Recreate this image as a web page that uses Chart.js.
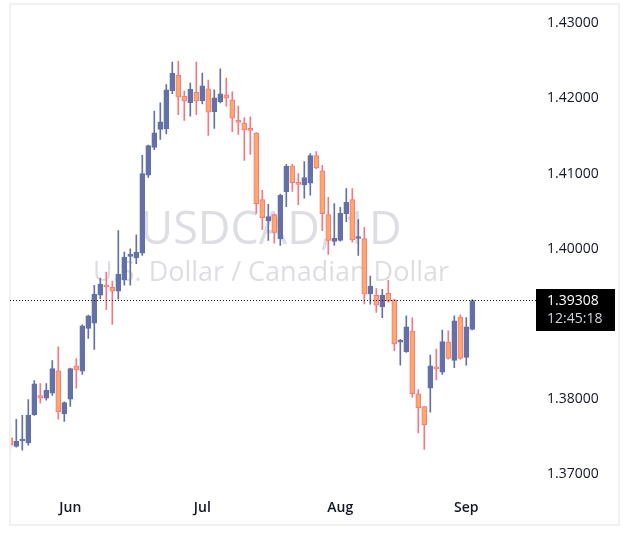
<!DOCTYPE html>
<html>
<head>
<meta charset="utf-8">
<title>USDCAD, 1D</title>
<script src="https://cdn.jsdelivr.net/npm/chart.js@4.4.1/dist/chart.umd.min.js"></script>
<style>
  html, body { margin: 0; padding: 0; background: #ffffff; }
  #wrap { width: 629px; height: 541px; position: relative; }
</style>
</head>
<body>
<div id="wrap"><canvas id="candles"></canvas></div>
<script>
// daily candles
const opens = [
  1.37481, 1.37367, 1.37440, 1.37415, 1.37791, 1.38046, 1.38011, 1.38077, 1.38373, 1.37799,
  1.37997, 1.38440, 1.38368, 1.38938, 1.39009, 1.39380, 1.39500, 1.39486, 1.39433, 1.39589,
  1.39898, 1.39878, 1.39940, 1.40977, 1.41348, 1.41587, 1.41596, 1.42103, 1.42307, 1.42029,
  1.41944, 1.42082, 1.41971, 1.42126, 1.41825, 1.41958, 1.42046, 1.41980, 1.41690, 1.41672,
  1.41585, 1.41539, 1.40652, 1.40368, 1.40453, 1.40130, 1.40758, 1.41102, 1.40865, 1.40850,
  1.40872, 1.41238, 1.41036, 1.40453, 1.40095, 1.40109, 1.40466, 1.40652, 1.40135, 1.40135,
  1.39401, 1.39380, 1.39229, 1.39407, 1.39318, 1.38755, 1.38629, 1.38903, 1.38069, 1.37897,
  1.38143, 1.38410, 1.38355, 1.38758, 1.38514, 1.39089, 1.38554, 1.38925
];
const highs = [
  1.37622, 1.37728, 1.37781, 1.37993, 1.38245, 1.38205, 1.38205, 1.38510, 1.38695, 1.37960,
  1.38410, 1.38536, 1.38987, 1.39115, 1.39513, 1.39609, 1.39689, 1.39570, 1.40241, 1.39954,
  1.39997, 1.40183, 1.41242, 1.41380, 1.41830, 1.41940, 1.42183, 1.42483, 1.42497, 1.42099,
  1.42205, 1.42483, 1.42338, 1.42245, 1.42113, 1.42395, 1.42272, 1.42086, 1.41897, 1.41742,
  1.41755, 1.41545, 1.40775, 1.40589, 1.40460, 1.40726, 1.41123, 1.41123, 1.41000, 1.41159,
  1.41265, 1.41291, 1.41110, 1.40682, 1.40599, 1.40550, 1.40801, 1.40801, 1.40387, 1.40285,
  1.39636, 1.39468, 1.39460, 1.39579, 1.39325, 1.38792, 1.39106, 1.39080, 1.38126, 1.37900,
  1.38585, 1.38665, 1.38917, 1.38907, 1.39106, 1.39119, 1.39083, 1.39322
];
const lows = [
  1.37331, 1.37358, 1.37318, 1.37384, 1.37781, 1.37944, 1.37984, 1.38046, 1.37732, 1.37702,
  1.37901, 1.38143, 1.38328, 1.38805, 1.38660, 1.39335, 1.39189, 1.38991, 1.39327, 1.39513,
  1.39513, 1.39799, 1.39910, 1.40947, 1.41318, 1.41454, 1.41526, 1.42064, 1.41785, 1.41706,
  1.41764, 1.41785, 1.41927, 1.41507, 1.41600, 1.41940, 1.41897, 1.41556, 1.41521, 1.41176,
  1.41256, 1.40470, 1.40254, 1.40109, 1.40073, 1.40042, 1.40559, 1.40762, 1.40585, 1.40673,
  1.40713, 1.41065, 1.40241, 1.39923, 1.40042, 1.40100, 1.40360, 1.40086, 1.39910, 1.39265,
  1.39261, 1.39150, 1.39083, 1.39287, 1.38642, 1.38448, 1.38620, 1.38024, 1.37547, 1.37327,
  1.37825, 1.38254, 1.38328, 1.38530, 1.38417, 1.38530, 1.38448, 1.38920
];
const closes = [
  1.37384, 1.37437, 1.37452, 1.37781, 1.38201, 1.38011, 1.38113, 1.38404, 1.37831, 1.37950,
  1.38404, 1.38387, 1.38974, 1.39106, 1.39397, 1.39530, 1.39490, 1.39433, 1.39662, 1.39887,
  1.39910, 1.39954, 1.41000, 1.41371, 1.41543, 1.41689, 1.42113, 1.42338, 1.42016, 1.41963,
  1.42122, 1.41963, 1.42166, 1.41817, 1.42007, 1.42060, 1.42003, 1.41738, 1.41680, 1.41579,
  1.41575, 1.40599, 1.40413, 1.40426, 1.40215, 1.40709, 1.41097, 1.40877, 1.40855, 1.40947,
  1.41238, 1.41075, 1.40466, 1.40109, 1.40139, 1.40470, 1.40616, 1.40117, 1.40145, 1.39393,
  1.39503, 1.39248, 1.39384, 1.39301, 1.38731, 1.38765, 1.38960, 1.38069, 1.37883, 1.37658,
  1.38440, 1.38400, 1.38762, 1.38540, 1.39040, 1.38540, 1.38960, 1.39308
];

// x axis: candle index where each month starts
const monthLabels = ['Jun', 'Jul', 'Aug', 'Sep'];
const monthStarts = [10, 32, 55, 76];
// y axis
const priceTicks = [1.37, 1.38, 1.39, 1.40, 1.41, 1.42, 1.43];

const symbolTitle = 'USDCAD, 1D';
const symbolName = 'U.S. Dollar / Canadian Dollar';
const countdown = '12:45:18';

const UP = '#6371a8';
const DOWN_EDGE = '#f7787f';
const DOWN_FILL = '#fea86c';
const FONT = "'Open Sans', sans-serif";

const isUp = i => closes[i] >= opens[i];
const lastIdx = closes.length - 1;

// frame, watermark, last price line + label
const decor = {
  id: 'decor',
  beforeDatasetsDraw(chart) {
    const { ctx, chartArea } = chart;
    const cx = (chartArea.left + chartArea.right) / 2;
    ctx.save();
    ctx.fillStyle = '#dddee3';
    ctx.textAlign = 'center';
    ctx.textBaseline = 'alphabetic';
    ctx.font = '45px ' + FONT;
    ctx.fillText(symbolTitle, cx, 244);
    ctx.font = '27px ' + FONT;
    ctx.fillText(symbolName, cx, 281);
    ctx.restore();
  },
  afterDraw(chart) {
    const { ctx, chartArea } = chart;
    const y = Math.round(chart.scales.y.getPixelForValue(closes[lastIdx])) - 0.5;
    ctx.save();
    // frame
    ctx.strokeStyle = '#f1f1f3';
    ctx.lineWidth = 2;
    ctx.strokeRect(10, 4, 609, 521);
    // dotted price line
    ctx.strokeStyle = '#131722';
    ctx.lineWidth = 1;
    ctx.setLineDash([1, 2]);
    ctx.beginPath();
    ctx.moveTo(chartArea.left, y);
    ctx.lineTo(chartArea.right + 4, y);
    ctx.stroke();
    ctx.setLineDash([]);
    // label box
    const bx = chartArea.right + 4;
    ctx.fillStyle = '#000000';
    ctx.fillRect(bx, y - 11.5, 79, 42);
    ctx.textAlign = 'left';
    ctx.textBaseline = 'middle';
    ctx.font = '500 14px ' + FONT;
    ctx.fillStyle = '#ffffff';
    ctx.fillText(closes[lastIdx].toFixed(5), bx + 11, y + 1);
    ctx.fillStyle = '#d1d4dc';
    ctx.fillText(countdown, bx + 11, y + 19);
    ctx.restore();
  }
};

new Chart(document.getElementById('candles'), {
  type: 'bar',
  data: {
    datasets: [
      {
        label: 'body',
        order: 0,
        grouped: false,
        data: opens.map((o, i) => ({ x: i, y: [o, closes[i]] })),
        backgroundColor: c => isUp(c.dataIndex) ? UP : DOWN_FILL,
        borderColor: c => isUp(c.dataIndex) ? UP : DOWN_EDGE,
        borderWidth: 1,
        borderSkipped: false,
        barThickness: 5,
        minBarLength: 2
      },
      {
        label: 'wick',
        order: 1,
        grouped: false,
        data: lows.map((l, i) => ({ x: i, y: [l, highs[i]] })),
        backgroundColor: c => isUp(c.dataIndex) ? UP : DOWN_EDGE,
        borderWidth: 0,
        barThickness: 1
      }
    ]
  },
  options: {
    responsive: true,
    maintainAspectRatio: false,
    animation: false,
    layout: { padding: { left: 10, right: 10, top: 4, bottom: 16 } },
    plugins: {
      legend: { display: false },
      tooltip: { enabled: false }
    },
    scales: {
      x: {
        type: 'linear',
        offset: false,
        min: -0.05,
        max: 86.95,
        grid: { display: false, drawTicks: false },
        border: { display: false },
        afterBuildTicks: s => { s.ticks = monthStarts.map(v => ({ value: v })); },
        afterFit: s => { s.height = 35; },
        ticks: {
          padding: 10,
          maxRotation: 0,
          autoSkip: false,
          color: '#131722',
          font: { family: FONT, size: 14, weight: '600' },
          callback: v => monthLabels[monthStarts.indexOf(v)]
        }
      },
      y: {
        position: 'right',
        min: 1.36788,
        max: 1.43198,
        // tick marks stay invisible, they only push the labels right
        grid: { color: 'rgba(0,0,0,0)', drawOnChartArea: false, drawTicks: true, tickLength: 15 },
        border: { display: false },
        afterBuildTicks: s => { s.ticks = priceTicks.map(v => ({ value: v })); },
        afterFit: s => { s.width = 87; },
        ticks: {
          padding: 0,
          color: '#131722',
          font: { family: FONT, size: 14 },
          callback: v => v.toFixed(5)
        }
      }
    }
  },
  plugins: [decor]
});
</script>
</body>
</html>
